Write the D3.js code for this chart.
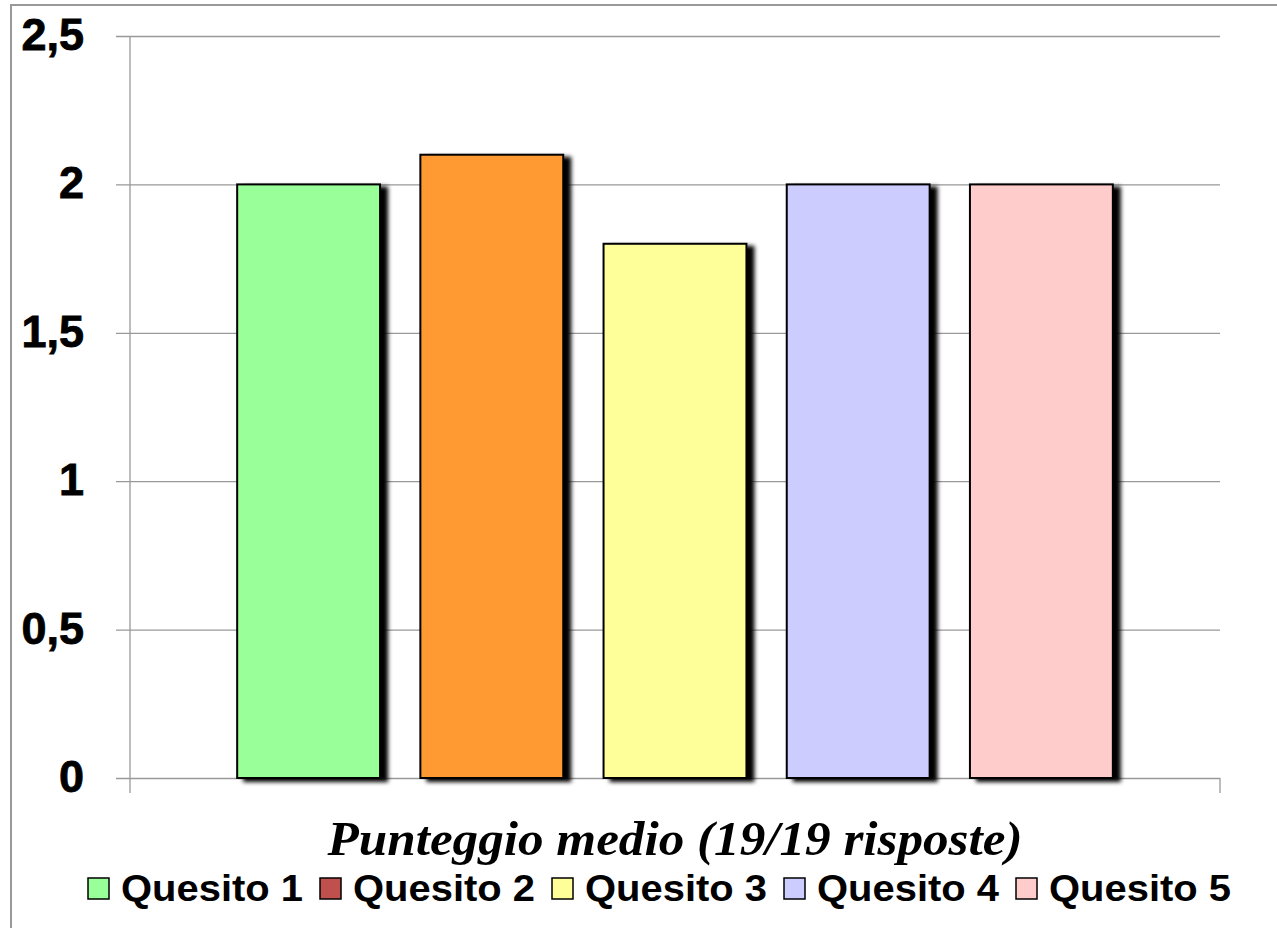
<!DOCTYPE html>
<html>
<head>
<meta charset="utf-8">
<script src="https://cdn.jsdelivr.net/npm/d3@7"></script>
<style>
  body { margin: 0; background: #fff; }
</style>
</head>
<body>
<svg width="1277" height="928"></svg>
<script>
// punteggio medio per quesito (19/19 risposte)
let categories = ["Punteggio medio (19/19 risposte)"];
let series = ["Quesito 1", "Quesito 2", "Quesito 3", "Quesito 4", "Quesito 5"];
let values = [2.0, 2.1, 1.8, 2.0, 2.0];
let barColors = ["#99FF99", "#FF9933", "#FFFF99", "#CCCCFF", "#FFCCCC"];
let legendColors = ["#99FF99", "#C0504D", "#FFFF99", "#CCCCFF", "#FFCCCC"];
let yTicks = [0, 0.5, 1, 1.5, 2, 2.5];

let svg = d3.select("svg");
let plotLeft = 130, plotRight = 1220, plotTop = 36, plotBottom = 778;

// outer frame
svg.append("rect")
  .attr("x", 11).attr("y", 5)
  .attr("width", 1290).attr("height", 950)
  .attr("fill", "none")
  .attr("stroke", "#999")
  .attr("stroke-width", 2);

let defs = svg.append("defs");
let f = defs.append("filter").attr("id", "shadow")
  .attr("x", "-10%").attr("y", "-10%").attr("width", "130%").attr("height", "120%");
f.append("feDropShadow")
  .attr("dx", 7).attr("dy", 3)
  .attr("stdDeviation", 2.2)
  .attr("flood-color", "#000")
  .attr("flood-opacity", 1);

let y = d3.scaleLinear().domain([0, 2.5]).range([plotBottom, plotTop]);

let x0 = d3.scaleBand().domain(categories).range([plotLeft, plotRight])
  .paddingInner(0).paddingOuter(0.095);
let x1 = d3.scaleBand().domain(series).range([0, x0.bandwidth()])
  .paddingInner(0.22).paddingOuter(0.11);

// gridlines + y axis
let yAxis = d3.axisLeft(y)
  .tickValues(yTicks)
  .tickSize(-(plotRight - plotLeft) - 14)
  .tickFormat(d => d3.format("")(d).replace(".", ","));

let ga = svg.append("g")
  .attr("transform", "translate(" + (plotLeft - 14) + ",0)")
  .call(yAxis);
ga.select(".domain").remove();
ga.selectAll(".tick line").attr("stroke", "#999").attr("stroke-width", 1.3);
ga.selectAll(".tick text")
  .attr("x", -32)
  .attr("dy", "0.3em")
  .attr("fill", "#000")
  .attr("stroke", "#000")
  .attr("stroke-width", 0.8)
  .style("font-family", "'Liberation Sans', Arial, sans-serif")
  .style("font-weight", "bold")
  .style("font-size", "45px");

// y axis line and category ticks
svg.append("line")
  .attr("x1", plotLeft).attr("x2", plotLeft)
  .attr("y1", plotTop).attr("y2", plotBottom + 15)
  .attr("stroke", "#999").attr("stroke-width", 1.3);
svg.append("line")
  .attr("x1", plotRight).attr("x2", plotRight)
  .attr("y1", plotBottom).attr("y2", plotBottom + 15)
  .attr("stroke", "#999").attr("stroke-width", 1.3);

// bars
let g = svg.append("g");
categories.forEach(function(c) {
  g.selectAll("rect.bar")
    .data(values)
    .enter()
    .append("rect")
    .attr("class", "bar")
    .attr("x", (d, i) => x0(c) + x1(series[i]))
    .attr("y", d => y(d))
    .attr("width", x1.bandwidth())
    .attr("height", d => y(0) - y(d))
    .attr("fill", (d, i) => barColors[i])
    .attr("stroke", "#000")
    .attr("stroke-width", 2)
    .attr("filter", "url(#shadow)");
});

// category label
svg.append("text")
  .attr("x", x0(categories[0]) + x0.bandwidth() / 2)
  .attr("y", 855)
  .attr("text-anchor", "middle")
  .attr("textLength", 695)
  .attr("lengthAdjust", "spacingAndGlyphs")
  .style("font-family", "'Liberation Serif', 'Times New Roman', serif")
  .style("font-style", "italic")
  .style("font-weight", "bold")
  .style("font-size", "48px")
  .text(categories[0]);

// legend
let legend = svg.append("g").attr("transform", "translate(88,878)");
let items = legend.selectAll("g")
  .data(series)
  .enter()
  .append("g")
  .attr("transform", (d, i) => "translate(" + (i * 232) + ",0)");
items.append("rect")
  .attr("width", 21).attr("height", 21)
  .attr("fill", (d, i) => legendColors[i])
  .attr("stroke", "#000")
  .attr("stroke-width", 1.5);
items.append("text")
  .attr("x", 33)
  .attr("y", 23)
  .attr("textLength", 182)
  .attr("lengthAdjust", "spacingAndGlyphs")
  .style("font-family", "'Liberation Sans', Arial, sans-serif")
  .style("font-weight", "bold")
  .style("font-size", "37px")
  .text(d => d);
</script>
</body>
</html>
